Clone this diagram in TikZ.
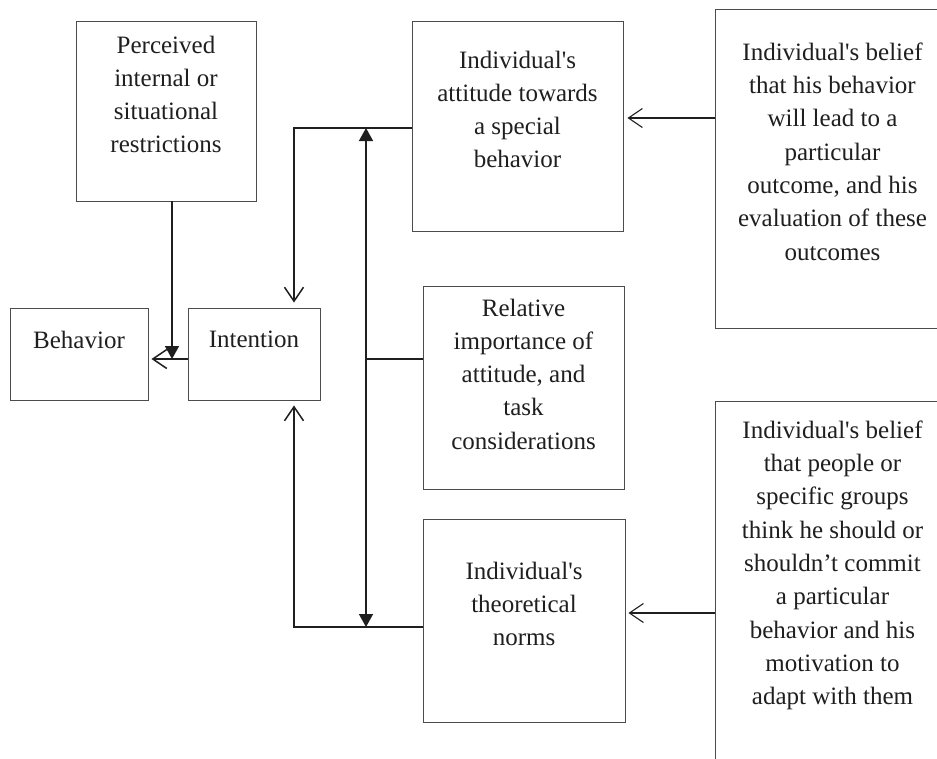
\documentclass[tikz,border=0pt]{standalone}
\usepackage{fontspec}
\setmainfont{Liberation Serif}
\usetikzlibrary{arrows.meta}
\begin{document}
\begin{tikzpicture}[x=1pt,y=-1pt,
  box/.style={draw=black!70, line width=0.9pt, inner sep=0pt},
  txt/.style={anchor=north, inner sep=0pt, align=center, text=black!88, font=\fontsize{25}{33.3}\selectfont},
  conn/.style={draw=black!88, line width=1.5pt},
  thinconn/.style={draw=black!88, line width=1.1pt},
  openarr/.style={-{Straight Barb[length=14pt,width=19pt]}},
  solidtip/.style={-{Triangle[length=13pt,width=14pt]}},
]
\useasboundingbox (0,0) rectangle (937,758);
\clip (0,0) rectangle (937,758);
\fill[white] (0,0) rectangle (937,758);

% boxes
\node[box, minimum width=180, minimum height=180] (perc) at (166,111) {};
\node[box, minimum width=138, minimum height=92] (beh) at (79,354) {};
\node[box, minimum width=132, minimum height=92] (int) at (254,354) {};
\node[box, minimum width=211, minimum height=210] (att) at (517.5,126) {};
\node[box, minimum width=201, minimum height=203] (rel) at (523.5,387.5) {};
\node[box, minimum width=202, minimum height=203] (norm) at (524,620.5) {};
\node[box, minimum width=235, minimum height=319] (tr) at (832.5,168.5) {};
\node[box, minimum width=235, minimum height=399] (br) at (832.5,600.5) {};

% texts
\node[txt] (percT) at (166,35.5) {Perceived\\internal or\\situational\\restrictions};
\node[txt] (behT) at (79,330.5) {Behavior};
\node[txt] (intT) at (254,330.5) {Intention};
\node[txt] (attT) at (517.5,50.5) {Individual\textquotesingle s\\attitude towards\\a special\\behavior};
\node[txt] (relT) at (523.5,298.5) {Relative\\importance of\\attitude, and\\task\\considerations};
\node[txt] (normT) at (524,561.5) {Individual\textquotesingle s\\theoretical\\norms};
\node[txt] (trT) at (832.5,42.5) {Individual\textquotesingle s belief\\that his behavior\\will lead to a\\particular\\outcome, and his\\evaluation of these\\outcomes};
\node[txt] (brT) at (832.5,420.5) {Individual\textquotesingle s belief\\that people or\\specific groups\\think he should or\\shouldn’t commit\\a particular\\behavior and his\\motivation to\\adapt with them};

% junction coordinates
\coordinate (vt) at (366,128);
\coordinate (vm) at (366,359);
\coordinate (vb) at (366,627);
\coordinate (jn) at (172,359);
\coordinate (trp) at ([yshift=50.5pt]tr.west);
\coordinate (brp) at ([yshift=-12.5pt]br.west);

% connectors
\draw[conn, openarr, shorten >=5pt] ([yshift=-2pt]att.west) -| ([xshift=40pt]int.north);
\draw[conn, {Triangle[length=13pt,width=14pt]}-{Triangle[length=13pt,width=14pt]}] (vb) -- (vt);
\draw[conn] ([yshift=28.5pt]rel.west) -- (vm);
\draw[conn, openarr, shorten >=5pt] ([yshift=-6.5pt]norm.west) -| ([xshift=40pt]int.south);
\draw[conn, solidtip] ([xshift=6pt]perc.south) -- (jn);
\draw[conn, openarr, shorten >=3pt] ([yshift=-5pt]int.west) -- (beh.east |- jn);
\draw[thinconn, openarr, shorten >=4pt] (trp) -- (trp -| att.east);
\draw[thinconn, openarr, shorten >=3pt] (brp) -- (brp -| norm.east);
\end{tikzpicture}
\end{document}
